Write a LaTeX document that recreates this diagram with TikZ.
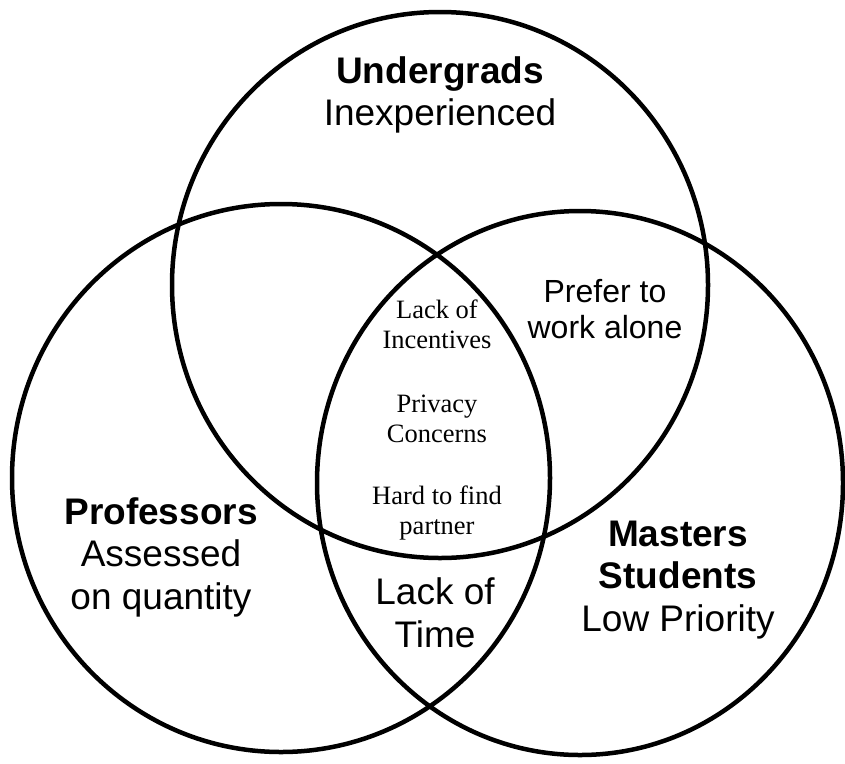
\documentclass[tikz,border=0pt]{standalone}
\usepackage{fontspec}
\setmainfont{Liberation Sans}
\newfontfamily\timesfam{Liberation Serif}
\usetikzlibrary{shapes.geometric}
\tikzset{
  setcircle/.style={ellipse, draw=black, line width=4.5pt, inner sep=0pt},
  biglabel/.style={align=center, inner sep=0pt, font=\fontsize{37}{42.5}\selectfont},
  midlabel/.style={align=center, inner sep=0pt, font=\fontsize{32}{36}\selectfont},
  smalllabel/.style={align=center, inner sep=0pt, font=\timesfam\fontsize{26.5}{30}\selectfont},
}
\begin{document}
\begin{tikzpicture}[x=1pt,y=-1pt]
\useasboundingbox (0,0) rectangle (845,763);
\node[setcircle, minimum width=536pt, minimum height=546pt] (undergrad) at (440,285) {};
\node[setcircle, minimum width=538pt, minimum height=548pt] (prof) at (281,478) {};
\node[setcircle, minimum width=526pt, minimum height=544pt] (masters) at (580,483) {};
\node[biglabel] (ulabel) at (440,95) {\textbf{Undergrads}\\Inexperienced};
\node[midlabel] (prefer) at (605,309) {Prefer to\\work alone};
\node[smalllabel] (incent) at (437,324) {Lack of\\Incentives};
\node[smalllabel] (privacy) at (437,419) {Privacy\\Concerns};
\node[smalllabel] (hard) at (437,513) {Hard to find\\partner};
\node[biglabel] (plabel) at (161,557) {\textbf{Professors}\\Assessed\\on quantity};
\node[biglabel] (mlabel) at (678,580) {\textbf{Masters}\\\textbf{Students}\\Low Priority};
\node[biglabel] (time) at (435,613) {Lack of\\Time};
\end{tikzpicture}
\end{document}
